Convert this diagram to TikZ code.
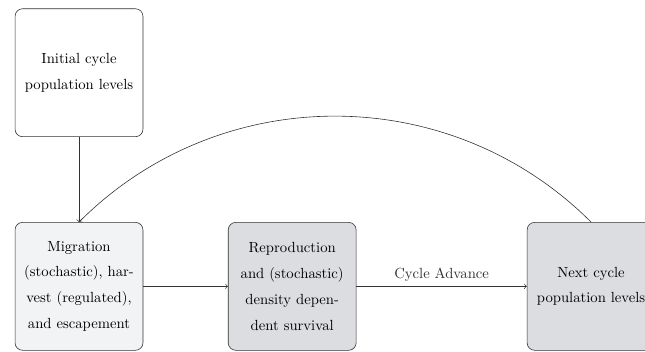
\documentclass[tikz,border=0pt]{standalone}
\usepackage{xcolor}
\usepackage{tikz}
\definecolor{boxline}{RGB}{50, 50, 50}
\definecolor{palegray}{RGB}{242, 243, 245}
\definecolor{midgray}{RGB}{220, 221, 224}

\begin{document}
\begin{tikzpicture}[
        stage/.style={rectangle, rounded corners=0.18cm, draw=boxline, minimum width=3.06cm, minimum height=3.06cm, text width=2.8cm, align=center, font={\linespread{1.47}\selectfont}},
        startbox/.style={stage, fill=white},
        harvestbox/.style={stage, fill=palegray},
        growbox/.style={stage, fill=midgray},
        link/.style={->, color=boxline}
    ]
    \useasboundingbox (0,0) rectangle (15.43,8.42);

    % Cycle stages
    \node[startbox] (initial) at (1.89, 6.68) {Initial cycle\\population levels};
    \node[harvestbox] (migration) at (1.89, 1.57) {Migration\\(stochastic), har-\\vest (regulated),\\and escapement};
    \node[growbox] (reproduction) at (6.99, 1.57) {Reproduction\\and (stochastic)\\density depen-\\dent survival};
    \node[growbox] (next) at (14.14, 1.57) {Next cycle\\population levels};

    % Flows
    \draw[link] (initial) -- (migration);
    \draw[link] (migration) -- (reproduction);
    \draw[link] (reproduction) -- node[above] {Cycle Advance} (next);

    % Feedback to next cycle
    \draw[link] (next.north) to[bend right=45] (migration.north);

\end{tikzpicture}
\end{document}
